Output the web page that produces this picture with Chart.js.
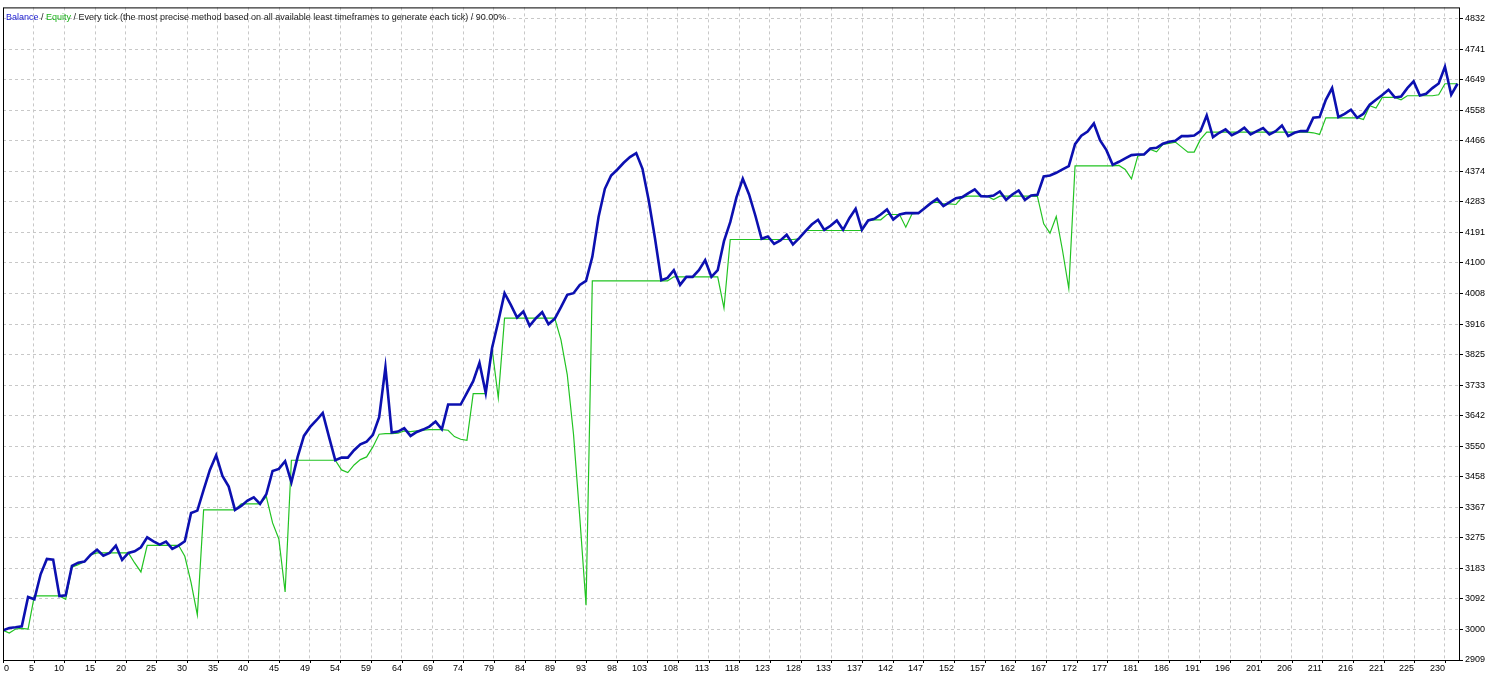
<!DOCTYPE html>
<html>
<head>
<meta charset="utf-8">
<script src="https://cdn.jsdelivr.net/npm/chart.js@4.4.1/dist/chart.umd.min.js"></script>
<style>
  html, body { margin: 0; padding: 0; background: #fff; }
  #wrap { width: 1500px; height: 675px; }
</style>
</head>
<body>
<div id="wrap"><canvas id="chart"></canvas></div>
<script>
// one value per closed trade
const balance = [
  2998, 3005, 3007, 3010, 3098, 3091, 3166, 3212, 3210, 3101,
  3103, 3191, 3201, 3204, 3225, 3240, 3222, 3230, 3252, 3209,
  3230, 3235, 3247, 3277, 3265, 3255, 3264, 3242, 3252, 3265,
  3350, 3357, 3419, 3479, 3523, 3461, 3429, 3359, 3371, 3387,
  3397, 3377, 3406, 3476, 3482, 3505, 3442, 3518, 3581, 3608,
  3628, 3650, 3578, 3508, 3516, 3516, 3538, 3556, 3564, 3584,
  3637, 3787, 3591, 3594, 3604, 3581, 3593, 3600, 3609, 3624,
  3601, 3675, 3675, 3675, 3710, 3745, 3800, 3710, 3844, 3924,
  4009, 3974, 3936, 3954, 3911, 3934, 3952, 3916, 3932, 3967,
  4004, 4009, 4034, 4046, 4118, 4238, 4322, 4362, 4380, 4400,
  4417, 4429, 4382, 4287, 4173, 4048, 4055, 4078, 4034, 4058,
  4058, 4078, 4108, 4058, 4078, 4165, 4222, 4297, 4352, 4305,
  4242, 4172, 4179, 4157, 4167, 4184, 4155, 4174, 4195, 4215,
  4229, 4199, 4211, 4227, 4199, 4234, 4262, 4199, 4227, 4232,
  4245, 4260, 4230, 4245, 4249, 4249, 4249, 4264, 4279, 4292,
  4270, 4282, 4294, 4297, 4309, 4320, 4300, 4299, 4302, 4314,
  4289, 4305, 4317, 4289, 4302, 4304, 4359, 4362, 4370, 4380,
  4390, 4456, 4481, 4494, 4518, 4467, 4438, 4394, 4403, 4413,
  4423, 4425, 4425, 4443, 4445, 4457, 4463, 4466, 4480, 4480,
  4482, 4495, 4542, 4477, 4490, 4500, 4483, 4492, 4505, 4485,
  4495, 4504, 4485, 4495, 4512, 4480, 4490, 4495, 4495, 4535,
  4537, 4589, 4624, 4537, 4547, 4559, 4535, 4547, 4574, 4589,
  4603, 4619, 4596, 4599, 4624, 4644, 4602, 4607, 4624, 4638,
  4688, 4604, 4637
];

const equity = [
  2998, 2990, 3002, 3004, 3002, 3101, 3101, 3101, 3101, 3101,
  3091, 3187, 3195, 3204, 3225, 3230, 3230, 3230, 3230, 3230,
  3230, 3200, 3173, 3253, 3253, 3253, 3253, 3253, 3253, 3220,
  3141, 3044, 3359, 3359, 3359, 3359, 3359, 3359, 3377, 3377,
  3377, 3377, 3399, 3320, 3272, 3113, 3508, 3508, 3508, 3508,
  3508, 3508, 3508, 3508, 3479, 3471, 3494, 3510, 3518, 3548,
  3586, 3588, 3588, 3589, 3596, 3594, 3596, 3598, 3600, 3600,
  3600, 3598, 3579, 3571, 3568, 3708, 3708, 3708, 3844, 3695,
  3934, 3934, 3934, 3934, 3934, 3934, 3934, 3934, 3934, 3869,
  3765, 3586, 3337, 3073, 4046, 4046, 4046, 4046, 4046, 4046,
  4046, 4046, 4046, 4046, 4046, 4046, 4046, 4058, 4058, 4058,
  4058, 4058, 4058, 4058, 4058, 3964, 4170, 4170, 4170, 4170,
  4170, 4170, 4170, 4170, 4170, 4170, 4170, 4172, 4197, 4197,
  4197, 4197, 4197, 4197, 4197, 4197, 4197, 4197, 4227, 4229,
  4229, 4245, 4245, 4245, 4207, 4247, 4249, 4264, 4280, 4282,
  4277, 4277, 4275, 4297, 4300, 4300, 4300, 4300, 4290, 4300,
  4300, 4300, 4300, 4300, 4300, 4299, 4217, 4189, 4239, 4137,
  4023, 4391, 4391, 4391, 4391, 4391, 4391, 4391, 4392, 4380,
  4352, 4420, 4425, 4440, 4433, 4455, 4458, 4462, 4447, 4432,
  4432, 4470, 4492, 4492, 4492, 4492, 4492, 4492, 4492, 4492,
  4492, 4492, 4492, 4492, 4492, 4492, 4492, 4492, 4492, 4490,
  4485, 4535, 4535, 4535, 4535, 4535, 4535, 4530, 4571, 4564,
  4596, 4596, 4596, 4589, 4601, 4601, 4601, 4601, 4601, 4604,
  4637, 4637, 4637
];

const trades = balance.map((v, i) => i);

// tester puts its x labels at even pixel steps, so the numbers are not evenly spaced
const xTicks = [0, 5, 10, 15, 20, 25, 30, 35, 40, 45, 49, 54, 59, 64, 69, 74, 79,
  84, 89, 93, 98, 103, 108, 113, 118, 123, 128, 133, 137, 142, 147, 152, 157,
  162, 167, 172, 177, 181, 186, 191, 196, 201, 206, 211, 216, 221, 225, 230];

const yTicks = [2909, 3000, 3092, 3183, 3275, 3367, 3458, 3550, 3642, 3733, 3825,
  3916, 4008, 4100, 4191, 4283, 4374, 4466, 4558, 4649, 4741, 4832];

const xStep = xTicks[xTicks.length - 1] / (xTicks.length - 1);

const titleParts = [
  ['Balance', '#1a1ad0'],
  [' / ', '#222'],
  ['Equity', '#18b018'],
  [' / Every tick (the most precise method based on all available least timeframes to generate each tick) / 90.00%', '#222'],
];

const labelFont = '9px "Liberation Sans"';

const frame = {
  id: 'frame',
  afterDraw(chart) {
    const {ctx, chartArea: a, scales: {x}} = chart;
    ctx.save();
    ctx.strokeStyle = '#000';
    ctx.lineWidth = 1;
    ctx.strokeRect(a.left + 0.5, a.top + 0.5, a.right - a.left - 1, a.bottom - a.top);

    ctx.font = labelFont;
    ctx.fillStyle = '#000';
    ctx.textBaseline = 'top';
    xTicks.forEach((v, k) => {
      const px = Math.round(x.getPixelForValue(k * xStep));
      ctx.beginPath();
      ctx.moveTo(px + 0.5, a.bottom);
      ctx.lineTo(px + 0.5, a.bottom + 3);
      ctx.stroke();
      if (k === 0) {
        ctx.textAlign = 'left';
        ctx.fillText(String(v), px + 1, a.bottom + 4);
      } else {
        ctx.textAlign = 'right';
        ctx.fillText(String(v), px, a.bottom + 4);
      }
    });

    ctx.font = '9px "Liberation Sans"';
    ctx.textAlign = 'left';
    let tx = a.left + 3;
    titleParts.forEach(([text, color]) => {
      ctx.fillStyle = color;
      ctx.fillText(text, tx, a.top + 6);
      tx += ctx.measureText(text).width;
    });
    ctx.restore();
  }
};

new Chart(document.getElementById('chart'), {
  type: 'line',
  data: {
    labels: trades,
    datasets: [
      {
        label: 'Equity',
        data: equity,
        borderColor: '#22c322',
        borderWidth: 1.2,
        pointRadius: 0,
        tension: 0,
        order: 2,
      },
      {
        label: 'Balance',
        data: balance,
        borderColor: '#0c10b0',
        borderWidth: 2.6,
        pointRadius: 0,
        tension: 0,
        order: 1,
      },
    ]
  },
  options: {
    responsive: true,
    maintainAspectRatio: false,
    animation: false,
    layout: { padding: { left: 3, top: 2, right: 0, bottom: 0 } },
    plugins: {
      legend: { display: false },
      title: { display: false },
      tooltip: { enabled: false },
    },
    scales: {
      x: {
        type: 'linear',
        min: 0,
        max: 232.4,
        afterBuildTicks: scale => { scale.ticks = xTicks.map((v, k) => ({ value: k * xStep })); },
        afterFit: scale => { scale.height = 15; },
        ticks: { display: false },
        grid: { color: '#c8c8c8', drawTicks: false },
        border: { display: false, dash: [3, 3] },
      },
      y: {
        position: 'right',
        min: 2909,
        max: 4866,
        afterBuildTicks: scale => { scale.ticks = yTicks.map(v => ({ value: v })); },
        afterFit: scale => { scale.width = 40; },
        ticks: {
          color: '#000',
          font: { family: 'Liberation Sans', size: 9 },
          padding: 2,
          callback: v => String(v),
        },
        grid: { color: '#c8c8c8', tickColor: '#000', tickLength: 3, tickBorderDash: [] },
        border: { display: false, dash: [3, 3] },
      }
    }
  },
  plugins: [frame]
});
</script>
</body>
</html>
